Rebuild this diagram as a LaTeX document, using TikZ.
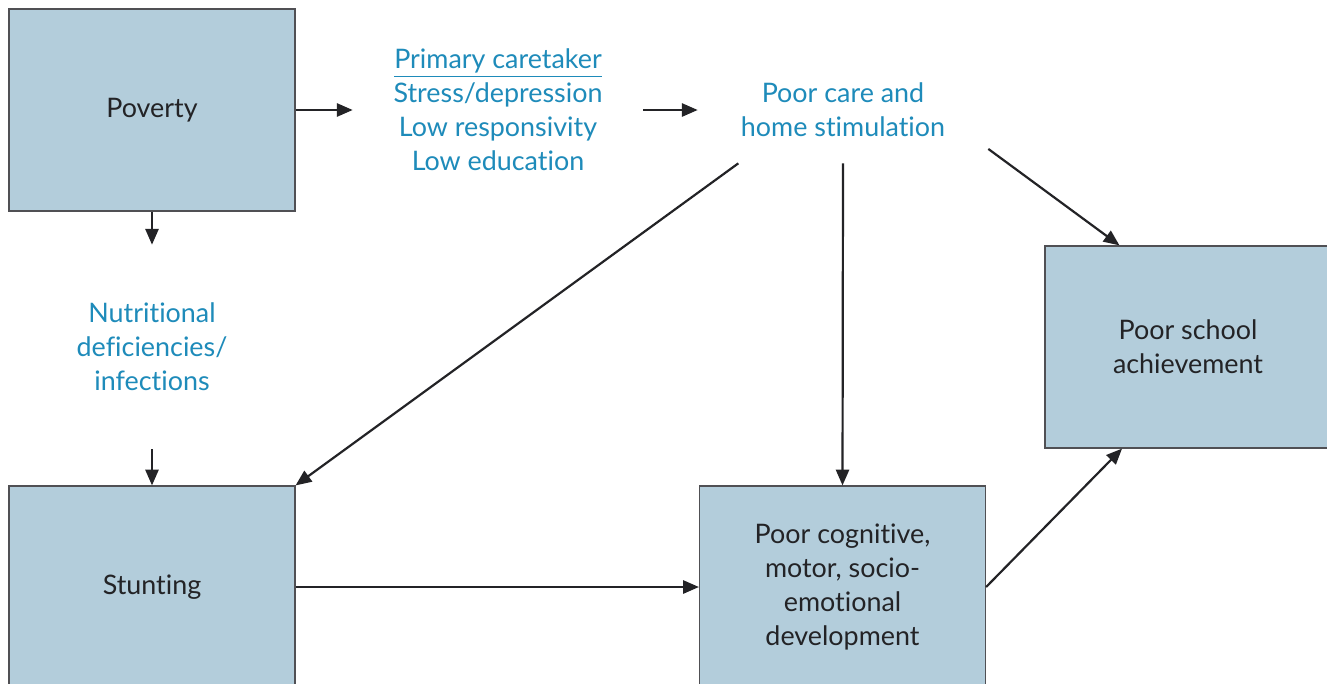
\documentclass[tikz,border=0pt]{standalone}
\usepackage{fontspec}
\setmainfont{Lato}[Ligatures = NoCommon]
\usetikzlibrary{arrows.meta}
\usepackage{xcolor}

\definecolor{boxblue}{RGB}{179, 205, 219}
\definecolor{boxedge}{RGB}{80, 80, 84}
\definecolor{textblue}{RGB}{30, 139, 186}
\definecolor{textdark}{RGB}{35, 35, 38}

\tikzset{
	blockbox/.style = {draw = boxedge, fill = boxblue, line width = 0.7pt, minimum width = 5.72cm, minimum height = 4.04cm, align = center, text = textdark, font = \fontsize{15.3}{19.35}\selectfont},
	bluetext/.style = {align = center, text = textblue, inner sep = 0pt, font = \fontsize{15.3}{19.35}\selectfont},
	arrowline/.style = {solid, line width = 1.25pt, color = textdark, -{Triangle[length = 9pt, width = 7.5pt]}}
}

\begin{document}
\begin{tikzpicture}[x = 0.02cm, y = -0.02cm]

	\clip (0, 0) rectangle (1327, 683);
	\fill[white] (0, 0) rectangle (1327, 683);
	
	\node[blockbox] (poverty) at (152, 110) {Poverty};
	\node[blockbox] (stunting) at (152, 587) {Stunting};
	\node[blockbox] (cognitive) at (842.5, 587) {Poor cognitive,\\motor, socio-\\emotional\\development};
	\node[blockbox] (school) at (1188, 347) {Poor school\\achievement};
	
	\node[bluetext, minimum width = 5.8cm] (caretaker) at (498, 110) {\underline{Primary caretaker}\\Stress/depression\\Low responsivity\\Low education};
	\node[bluetext, minimum width = 5.8cm, minimum height = 2.12cm] (homecare) at (843, 110) {Poor care and\\home stimulation};
	\node[bluetext, minimum height = 4.08cm] (nutrition) at (152, 347) {Nutritional\\deficiencies/\\infections};
	
	\draw[arrowline] (poverty.east) -- (caretaker.west);
	\draw[arrowline] (caretaker.east) -- (homecare.west);
	\draw[arrowline] (poverty.south) -- (nutrition.north);
	\draw[arrowline] (nutrition.south) -- (stunting.north);
	\draw[arrowline] (homecare.207.5) -- (stunting.north east);
	\draw[arrowline] (homecare.south) -- (cognitive.north);
	\draw[arrowline] (homecare.-15) -- (school.124);
	\draw[arrowline] (stunting.east) -- (cognitive.west);
	\draw[arrowline] (cognitive.east) -- (school.237);
	
\end{tikzpicture}
\end{document}
